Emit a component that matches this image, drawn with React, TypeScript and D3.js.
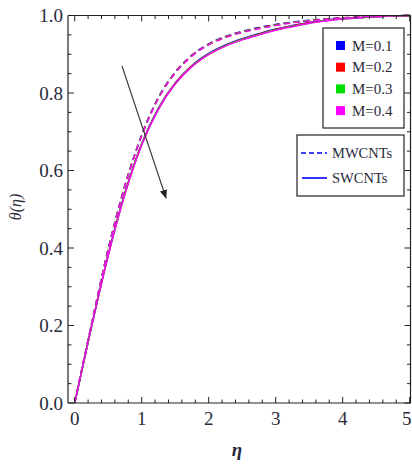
import React from "react";
import * as d3 from "d3";

const eta = [0, 0.25, 0.5, 0.75, 1, 1.25, 1.5, 1.75, 2, 2.25, 2.5, 2.75, 3, 3.25, 3.5, 3.75, 4, 4.5, 5];

const mLabels = ["M=0.1", "M=0.2", "M=0.3", "M=0.4"];
const mColors = ["#0000ff", "#ff0000", "#00e000", "#ff00ff"];

// SWCNTs (solid)
const swM1 = [0, 0.197, 0.383, 0.542, 0.669, 0.761, 0.826, 0.871, 0.902, 0.924, 0.940, 0.953, 0.965, 0.974, 0.982, 0.988, 0.992, 0.997, 1];
const swM2 = [0, 0.197, 0.382, 0.541, 0.668, 0.760, 0.825, 0.870, 0.901, 0.923, 0.939, 0.952, 0.964, 0.973, 0.981, 0.987, 0.992, 0.997, 1];
const swM3 = [0, 0.196, 0.381, 0.540, 0.667, 0.759, 0.824, 0.869, 0.900, 0.922, 0.938, 0.951, 0.963, 0.972, 0.980, 0.987, 0.991, 0.997, 1];
const swM4 = [0, 0.196, 0.380, 0.539, 0.666, 0.758, 0.823, 0.868, 0.899, 0.921, 0.937, 0.950, 0.962, 0.971, 0.980, 0.986, 0.991, 0.997, 1];

// MWCNTs (dashed)
const mwM1 = [0, 0.203, 0.398, 0.562, 0.692, 0.789, 0.854, 0.898, 0.927, 0.946, 0.959, 0.969, 0.977, 0.983, 0.988, 0.991, 0.994, 0.998, 1];
const mwM2 = [0, 0.203, 0.397, 0.561, 0.691, 0.788, 0.853, 0.897, 0.926, 0.945, 0.958, 0.968, 0.976, 0.982, 0.987, 0.991, 0.994, 0.998, 1];
const mwM3 = [0, 0.202, 0.396, 0.560, 0.690, 0.787, 0.852, 0.896, 0.925, 0.944, 0.957, 0.967, 0.975, 0.982, 0.987, 0.990, 0.993, 0.998, 1];
const mwM4 = [0, 0.202, 0.395, 0.559, 0.689, 0.786, 0.851, 0.895, 0.924, 0.943, 0.956, 0.966, 0.974, 0.981, 0.986, 0.990, 0.993, 0.998, 1];

const swSeries = [swM1, swM2, swM3, swM4];
const mwSeries = [mwM1, mwM2, mwM3, mwM4];

const xTicks = [0, 1, 2, 3, 4, 5];
const yTicks = [0, 0.2, 0.4, 0.6, 0.8, 1.0];
const typeLabels = ["MWCNTs", "SWCNTs"];

const W = 412;
const H = 468;
const L = 68, R = 410.5, T = 15.5, B = 403;

export default function App() {
  const x = d3.scaleLinear().domain([-0.1, 5.02]).range([L, R + 0.5]);
  const y = d3.scaleLinear().domain([0, 1]).range([B, T]);
  const line = d3
    .line<number>()
    .x((_, i) => x(eta[i]))
    .y((d) => y(d))
    .curve(d3.curveMonotoneX);

  const xMinor = d3.range(0, 5.001, 0.2).filter((v) => Math.abs(v - Math.round(v)) > 1e-6);
  const yMinor = d3.range(0, 1.0001, 0.05).filter((v) => Math.abs(v * 5 - Math.round(v * 5)) > 1e-6);
  const font = "'Liberation Serif', 'DejaVu Serif', serif";
  const tc = "#2a2a3a";

  return (
    <svg
      width={W}
      height={H}
      style={{ position: "absolute", left: 0, top: 0, background: "#fff" }}
      fontFamily={font}
    >
      {/* curves */}
      <g fill="none" strokeWidth={1.5}>
        {swSeries.map((s, i) => (
          <path key={"sw" + i} d={line(s) || ""} stroke={mColors[i]} />
        ))}
        {mwSeries.map((s, i) => (
          <path key={"mw" + i} d={line(s) || ""} stroke={mColors[i]} strokeDasharray="6,4" />
        ))}
      </g>

      {/* frame */}
      <g stroke="#222" strokeWidth={1.2} fill="none">
        <line x1={L} y1={B} x2={R} y2={B} />
        <line x1={L} y1={T} x2={R} y2={T} />
        <line x1={L} y1={T} x2={L} y2={B} />
        <line x1={R} y1={T} x2={R} y2={B} />
      </g>
      <g stroke="#222" strokeWidth={1}>
        {xTicks.map((t) => (
          <g key={"xt" + t}>
            <line x1={x(t)} x2={x(t)} y1={B} y2={B - 6} />
            <line x1={x(t)} x2={x(t)} y1={T} y2={T + 6} />
          </g>
        ))}
        {xMinor.map((t) => (
          <g key={"xm" + t}>
            <line x1={x(t)} x2={x(t)} y1={B} y2={B - 3.5} />
            <line x1={x(t)} x2={x(t)} y1={T} y2={T + 3.5} />
          </g>
        ))}
        {yTicks.map((t) => (
          <g key={"yt" + t}>
            <line x1={L} x2={L + 6} y1={y(t)} y2={y(t)} />
            <line x1={R} x2={R - 6} y1={y(t)} y2={y(t)} />
          </g>
        ))}
        {yMinor.map((t) => (
          <g key={"ym" + t}>
            <line x1={L} x2={L + 3.5} y1={y(t)} y2={y(t)} />
            <line x1={R} x2={R - 3.5} y1={y(t)} y2={y(t)} />
          </g>
        ))}
      </g>

      {/* tick labels */}
      <g fontSize={19} fill={tc}>
        {xTicks.map((t) => (
          <text
            key={"xl" + t}
            x={t === 5 ? W - 0.5 : x(t)}
            y={425}
            textAnchor={t === 5 ? "end" : "middle"}
          >
            {t}
          </text>
        ))}
        {yTicks.map((t) => (
          <text key={"yl" + t} x={63} y={y(t) + 6.5} textAnchor="end">
            {t.toFixed(1)}
          </text>
        ))}
      </g>

      {/* axis titles */}
      <text x={237} y={456} fontSize={19} fontStyle="italic" fontWeight="bold" textAnchor="middle" fill={tc}>
        η
      </text>
      <text
        transform="translate(21,207) rotate(-90)"
        fontSize={16}
        fontStyle="italic"
        textAnchor="middle"
        fill={tc}
      >
        θ(η)
      </text>

      {/* arrow */}
      <defs>
        <marker id="ah" viewBox="0 0 10 10" refX="9" refY="5" markerWidth="9" markerHeight="9" orient="auto" markerUnits="userSpaceOnUse">
          <path d="M0,1 L10,5 L0,9 Z" fill="#222" />
        </marker>
      </defs>
      <line x1={122} y1={66} x2={166} y2={198} stroke="#333" strokeWidth={1.1} markerEnd="url(#ah)" />

      {/* legend 1 */}
      <rect x={323} y={28} width={81} height={100} fill="#fff" stroke="#333" strokeWidth={1.3} />
      {mLabels.map((lab, i) => (
        <g key={lab}>
          <rect x={336} y={41 + i * 21.7} width={9} height={9} fill={mColors[i]} />
          <text x={352} y={50.5 + i * 21.7} fontSize={15} fill={tc}>
            {lab}
          </text>
        </g>
      ))}

      {/* legend 2 */}
      <rect x={297} y={135} width={107} height={61} fill="#fff" stroke="#333" strokeWidth={1.3} />
      <line x1={301} x2={327} y1={153} y2={153} stroke="#0000ff" strokeWidth={1.6} strokeDasharray="5,3" />
      <line x1={302} x2={327} y1={178} y2={178} stroke="#0000ff" strokeWidth={1.6} />
      <text x={332} y={158} fontSize={14.5} fill={tc}>
        {typeLabels[0]}
      </text>
      <text x={332} y={183} fontSize={14.5} fill={tc}>
        {typeLabels[1]}
      </text>
    </svg>
  );
}
